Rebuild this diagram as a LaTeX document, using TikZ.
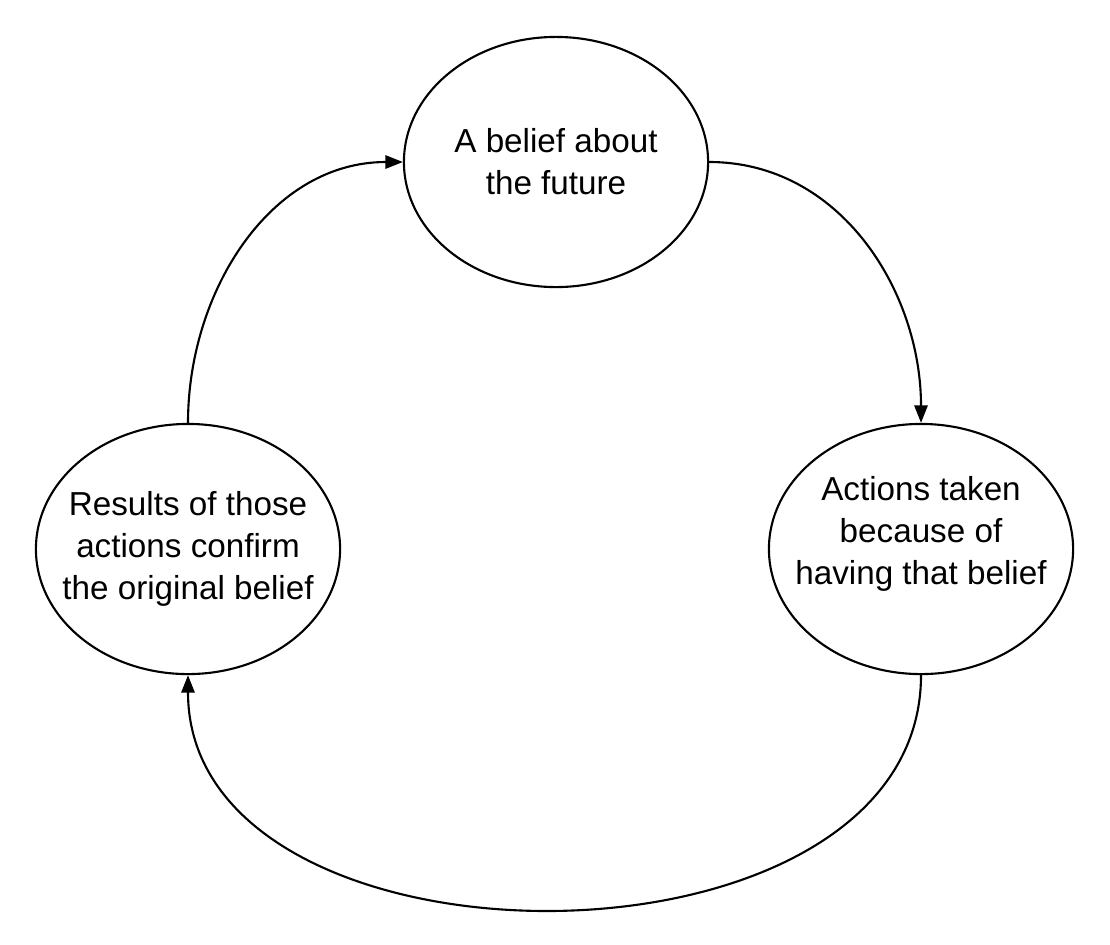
\documentclass[tikz,border=0pt]{standalone}
\usepackage{fontspec}
\setmainfont{Liberation Sans}
\usepackage{tikz}
\usetikzlibrary{shapes.geometric, arrows.meta, positioning}
\tikzstyle{belief} = [ellipse, draw, line width=0.6pt, minimum width=3.04cm, minimum height=2.5cm, align=center, inner xsep=-0.3cm, inner ysep=0pt]
\tikzstyle{arrow} = [line width=0.6pt, -{Triangle[length=5pt,width=3.8pt]}]

\begin{document}
\begin{tikzpicture}[x=0.01cm, y=0.01cm, font=\fontsize{9.45}{12}\selectfont]
    \useasboundingbox (0,0) rectangle (1110,944);
    \node (future) [belief] at (556,782) {A belief about\\the future};
    \node (actions) [belief, text depth=10.6pt] at (921,395) {Actions taken\\because of\\having that belief};
    \node (results) [belief] at (188,395) {Results of those\\actions confirm\\the original belief};

    \draw [arrow] (future.east) to[out=0, in=90] (actions.north);
    \draw [arrow] (actions.south) to[out=-90, in=-90, looseness=1.09] (results.south);
    \draw [arrow] (results.north) to[out=90, in=180] (future.west);
  \end{tikzpicture}
\end{document}
